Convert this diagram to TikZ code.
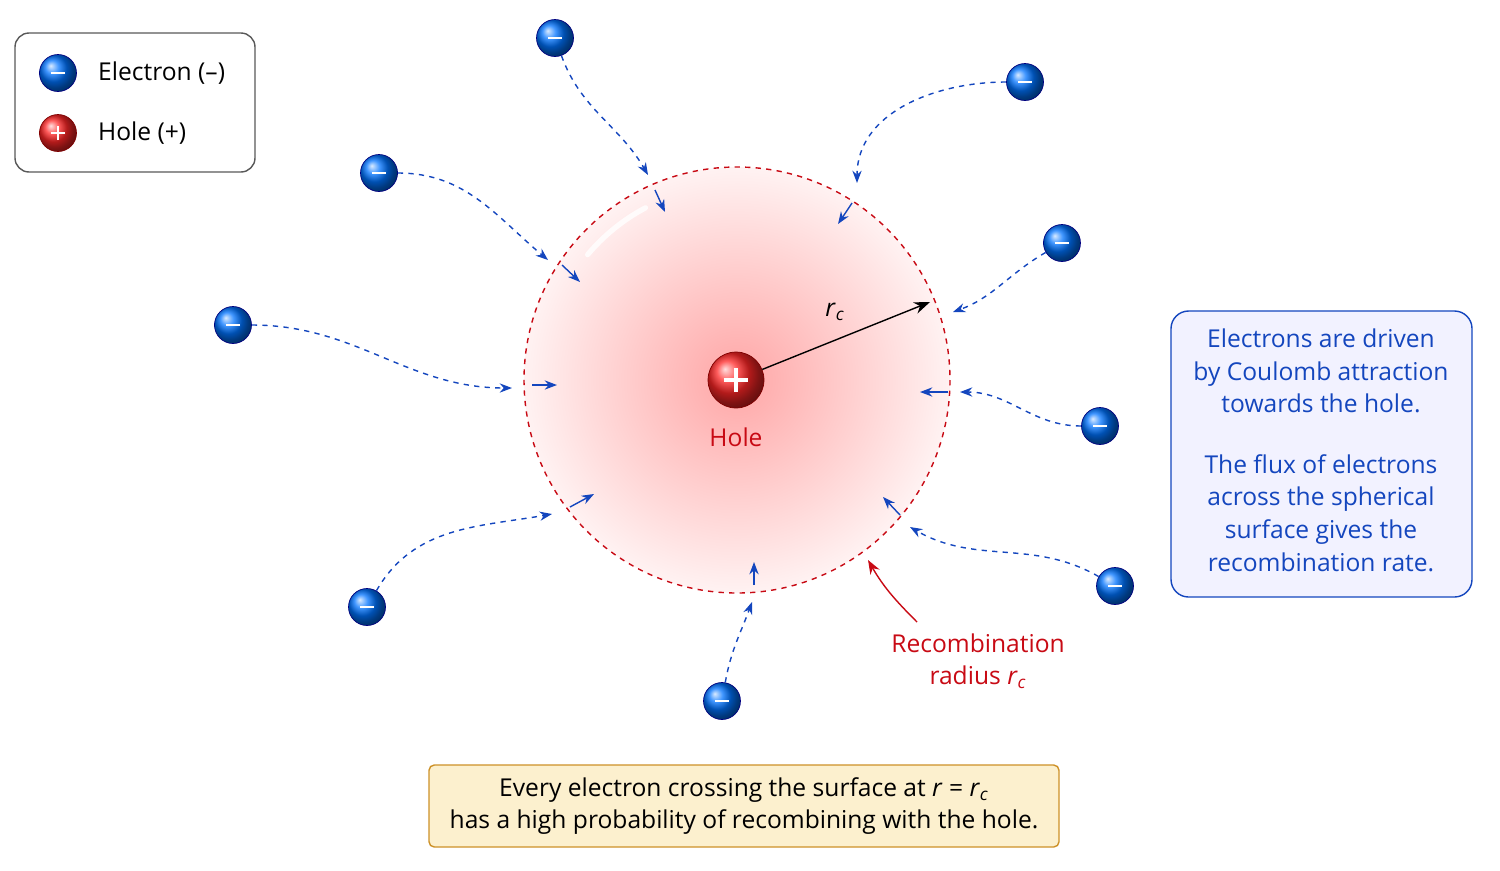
\documentclass[tikz,border=0pt]{standalone}
\usepackage{fontspec}
\setmainfont{Open Sans}
\usetikzlibrary{arrows.meta}
\definecolor{eblue}{RGB}{20,70,190}
\definecolor{hred}{RGB}{200,10,20}
\definecolor{notefill}{RGB}{252,240,206}
\definecolor{noteline}{RGB}{205,145,40}
\newcommand{\rcsym}{\textit{r}\textsubscript{\textit{c}}}
\begin{document}
\begin{tikzpicture}[x=0.02cm,y=-0.02cm,
  elec/.style={circle,minimum size=0.74cm,inner sep=0pt,shading=ball,ball color=blue!55!cyan,draw=blue!50!black,
    path picture={\draw[white,line width=1.6pt] ([xshift=-0.14cm]path picture bounding box.center) -- ++(0.28cm,0);}},
  hole/.style={circle,minimum size=1.12cm,inner sep=0pt,shading=ball,ball color=red!85,draw=red!50!black,
    path picture={\draw[white,line width=2.4pt] ([xshift=-0.24cm]path picture bounding box.center) -- ++(0.48cm,0)
      ([yshift=-0.24cm]path picture bounding box.center) -- ++(0,0.48cm);}},
  holesm/.style={hole,minimum size=0.74cm,
    path picture={\draw[white,line width=1.6pt] ([xshift=-0.14cm]path picture bounding box.center) -- ++(0.28cm,0)
      ([yshift=-0.14cm]path picture bounding box.center) -- ++(0,0.28cm);}},
  flow/.style={eblue,dashed,thick,-{Stealth[length=7pt]}},
  short/.style={eblue,thick,-{Stealth[length=7pt]}},
  txt/.style={font=\fontsize{14}{18.5}\selectfont,align=center}]
\useasboundingbox (0,0) rectangle (1500,870);
% sphere
\shade[inner color=red!35,outer color=red!5] (737,380) circle[radius=213];
\draw[white,line width=3pt,line cap=round,opacity=0.8] (737,380) ++(-140:195) arc[start angle=-140,end angle=-118,radius=195];
\draw[hred,dashed,thick] (737,380) circle[radius=213];
\node[hole] (h) at (736,380) {};
\node[txt,text=hred] (hl) at (736,437) {Hole};
\coordinate (rc) at (930,302);
\draw[thick,-{Stealth[length=9pt]}] (h) -- (rc);
\node[txt] (rl) at (835,312) {\rcsym};
% electrons
\node[elec] (e1) at (555,38) {};
\node[elec] (e2) at (1025,82) {};
\node[elec] (e3) at (379,173) {};
\node[elec] (e4) at (1062,243) {};
\node[elec] (e5) at (233,325) {};
\node[elec] (e6) at (1100,426) {};
\node[elec] (e7) at (367,607) {};
\node[elec] (e8) at (1115,586) {};
\node[elec] (e9) at (722,701) {};
\coordinate (a1) at (648,175); \coordinate (a2) at (857,183); \coordinate (a3) at (548,260);
\coordinate (a4) at (953,312); \coordinate (a5) at (512,388); \coordinate (a6) at (960,392);
\coordinate (a7) at (552,514); \coordinate (a8) at (910,527); \coordinate (a9) at (752,602);
\draw[flow] (e1) to[out=-70,in=120] (a1);
\draw[flow] (e2) to[out=180,in=90] (a2);
\draw[flow] (e3) to[out=0,in=140] (a3);
\draw[flow] (e4) to[out=-150,in=20] (a4);
\draw[flow] (e5) to[out=0,in=180] (a5);
\draw[flow] (e6) to[out=180,in=0] (a6);
\draw[flow] (e7) to[out=60,in=190] (a7);
\draw[flow] (e8) to[out=150,in=-30] (a8);
\draw[flow] (e9) to[out=80,in=-110] (a9);
% inner arrows
\draw[short] (655,190) -- (665,212);
\draw[short] (852,203) -- (838,224);
\draw[short] (562,265) -- (580,282);
\draw[short] (532,385) -- (557,385);
\draw[short] (948,392) -- (920,392);
\draw[short] (570,507) -- (594,494);
\draw[short] (900,515) -- (883,497);
\draw[short] (754,585) -- (754,562);
% recombination label
\node[txt,text=hred] (rr) at (978,661) {Recombination\\radius \rcsym};
\coordinate (rp) at (868,560);
\draw[hred,thick,-{Stealth[length=8pt]}] (917,622) to[out=135,in=-60] (rp);
% legend
\draw[gray!70!black,thick,rounded corners=8pt,fill=white] (15,33) rectangle (255,172);
\node[elec] (le) at (58,73) {};
\node[txt,anchor=west] at (92,73) {Electron (–)};
\node[holesm] (lh) at (58,133) {};
\node[txt,anchor=west] at (92,133) {Hole (+)};
% side note
\draw[eblue,thick,rounded corners=10pt,fill=blue!5] (1171,311) rectangle (1472,597);
\node[txt,text=eblue] (n1) at (1321,371) {Electrons are driven\\by Coulomb attraction\\towards the hole.};
\node[txt,text=eblue] (n2) at (1321,513) {The flux of electrons\\across the spherical\\surface gives the\\recombination rate.};
% bottom note
\draw[noteline,thick,rounded corners=3pt,fill=notefill] (429,765) rectangle (1059,847);
\node[txt] (bn) at (744,806) {Every electron crossing the surface at \textit{r} = \rcsym\\has a high probability of recombining with the hole.};
\end{tikzpicture}
\end{document}
